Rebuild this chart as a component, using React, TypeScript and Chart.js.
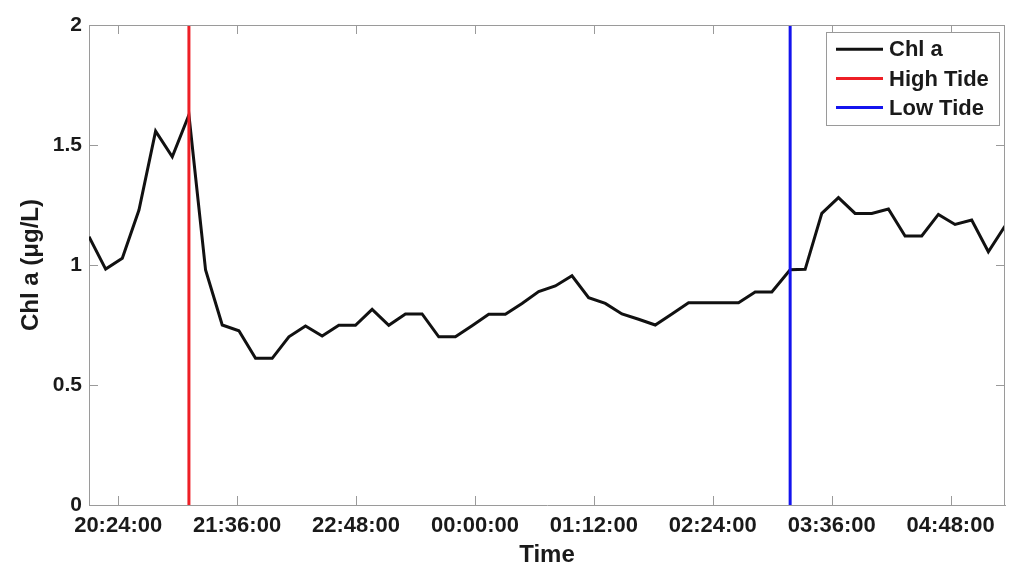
import React, { useEffect, useRef } from 'react';
import { Chart, registerables } from 'chart.js';

Chart.register(...registerables);

// Sample times (HH:MM:SS), overnight
const sampleTimes = [
  '20:06:20', '20:16:25', '20:26:30', '20:36:35', '20:46:40', '20:56:45', '21:06:50', '21:16:55',
  '21:27:00', '21:37:05', '21:47:10', '21:57:15', '22:07:20', '22:17:25', '22:27:30', '22:37:35',
  '22:47:40', '22:57:45', '23:07:50', '23:17:55', '23:28:00', '23:38:05', '23:48:10', '23:58:15',
  '00:08:20', '00:18:25', '00:28:30', '00:38:35', '00:48:40', '00:58:45', '01:08:50', '01:18:55',
  '01:29:00', '01:39:05', '01:49:10', '01:59:15', '02:09:20', '02:19:25', '02:29:30', '02:39:35',
  '02:49:40', '02:59:45', '03:10:50', '03:19:55', '03:30:00', '03:40:05', '03:50:10', '04:00:15',
  '04:10:20', '04:20:25', '04:30:30', '04:40:35', '04:50:40', '05:00:45', '05:10:50', '05:20:55',
];

// Chl a (µg/L)
const chlValues = [
  1.118, 0.983, 1.028, 1.229, 1.558, 1.451, 1.625, 0.979,
  0.75, 0.726, 0.611, 0.611, 0.701, 0.746, 0.704, 0.749,
  0.749, 0.815, 0.749, 0.796, 0.796, 0.701, 0.701, 0.747,
  0.795, 0.795, 0.84, 0.889, 0.9125, 0.955, 0.864, 0.84,
  0.796, 0.774, 0.75, 0.796, 0.843, 0.843, 0.843, 0.843,
  0.8875, 0.8875, 0.98, 0.982, 1.215, 1.281, 1.215, 1.215,
  1.233, 1.121, 1.121, 1.211, 1.169, 1.1875, 1.055, 1.1625,
];

const highTideTime = '21:06:50';
const lowTideTime = '03:10:50';
const tideRange = [0, 2];

const xTickTimes = ['20:24:00', '21:36:00', '22:48:00', '00:00:00', '01:12:00', '02:24:00', '03:36:00', '04:48:00'];
const yTickValues = [0, 0.5, 1, 1.5, 2];

const seriesLabels = ['Chl a', 'High Tide', 'Low Tide'];
const seriesColors = ['#111111', '#ee1f26', '#1414ee'];

const FONT = '"Liberation Sans", Arial, Helvetica, sans-serif';
const AXIS_GRAY = '#9a9a9a';
const TEXT = '#1a1a1a';

function toMinutes(t: string): number {
  const [h, m, s] = t.split(':').map(Number);
  let v = h * 60 + m + s / 60;
  if (h < 12) v += 1440;
  return v;
}

function fmtTime(v: number): string {
  let total = Math.round(v * 60);
  total = ((total % 86400) + 86400) % 86400;
  const h = Math.floor(total / 3600);
  const m = Math.floor((total % 3600) / 60);
  const s = total % 60;
  const p = (n: number) => String(n).padStart(2, '0');
  return `${p(h)}:${p(m)}:${p(s)}`;
}

const boxTicksPlugin = {
  id: 'boxTicks',
  afterDatasetsDraw(chart: any) {
    const { ctx, chartArea } = chart;
    const { left, right, top, bottom } = chartArea;
    const len = 9;
    ctx.save();
    ctx.strokeStyle = AXIS_GRAY;
    ctx.lineWidth = 1;
    ctx.beginPath();
    ctx.moveTo(left, top + 0.5);
    ctx.lineTo(right, top + 0.5);
    ctx.moveTo(right - 0.5, top);
    ctx.lineTo(right - 0.5, bottom);
    const xs = chart.scales.x;
    xs.ticks.forEach((t: any) => {
      const px = Math.round(xs.getPixelForValue(t.value)) + 0.5;
      ctx.moveTo(px, bottom);
      ctx.lineTo(px, bottom - len);
      ctx.moveTo(px, top);
      ctx.lineTo(px, top + len);
    });
    const ys = chart.scales.y;
    ys.ticks.forEach((t: any) => {
      const py = Math.round(ys.getPixelForValue(t.value)) + 0.5;
      ctx.moveTo(left, py);
      ctx.lineTo(left + len, py);
      ctx.moveTo(right, py);
      ctx.lineTo(right - len, py);
    });
    ctx.stroke();
    ctx.restore();
  },
};

const boxLegendPlugin = {
  id: 'boxLegend',
  afterDraw(chart: any) {
    const { ctx, chartArea } = chart;
    const w = 173;
    const h = 93;
    const x0 = chartArea.right - 6 - w;
    const y0 = chartArea.top + 7;
    ctx.save();
    ctx.fillStyle = '#ffffff';
    ctx.fillRect(x0, y0, w, h);
    ctx.strokeStyle = AXIS_GRAY;
    ctx.lineWidth = 1;
    ctx.strokeRect(x0 + 0.5, y0 + 0.5, w, h);
    const rows = [17.3, 46.5, 75.5];
    chart.data.datasets.forEach((ds: any, i: number) => {
      const y = y0 + rows[i];
      ctx.strokeStyle = ds.borderColor;
      ctx.lineWidth = 3;
      ctx.beginPath();
      ctx.moveTo(x0 + 10, y);
      ctx.lineTo(x0 + 57, y);
      ctx.stroke();
      ctx.fillStyle = TEXT;
      ctx.font = `bold 22px ${FONT}`;
      ctx.textBaseline = 'middle';
      ctx.textAlign = 'left';
      ctx.fillText(ds.label, x0 + 63, y + 1);
    });
    ctx.restore();
  },
};

export default function App() {
  const canvasRef = useRef<HTMLCanvasElement | null>(null);

  useEffect(() => {
    if (!canvasRef.current) return;
    const xMin = toMinutes(sampleTimes[0]);
    const xMax = toMinutes(sampleTimes[sampleTimes.length - 1]);
    const chlData = sampleTimes.map((t, i) => ({ x: toMinutes(t), y: chlValues[i] }));
    const hi = toMinutes(highTideTime);
    const lo = toMinutes(lowTideTime);

    const chart = new Chart(canvasRef.current, {
      type: 'line',
      data: {
        datasets: [
          {
            label: seriesLabels[0],
            data: chlData,
            borderColor: seriesColors[0],
            borderWidth: 3,
            pointRadius: 0,
            tension: 0,
            order: 2,
          },
          {
            label: seriesLabels[1],
            data: tideRange.map((y) => ({ x: hi, y })),
            borderColor: seriesColors[1],
            borderWidth: 3,
            pointRadius: 0,
            order: 1,
          },
          {
            label: seriesLabels[2],
            data: tideRange.map((y) => ({ x: lo, y })),
            borderColor: seriesColors[2],
            borderWidth: 3,
            pointRadius: 0,
            order: 1,
          },
        ],
      },
      options: {
        animation: false,
        responsive: true,
        maintainAspectRatio: false,
        parsing: false,
        layout: { padding: { left: 0, right: 19, top: 25, bottom: 0 } },
        plugins: {
          legend: { display: false },
          tooltip: { enabled: false },
        },
        scales: {
          x: {
            type: 'linear',
            min: xMin,
            max: xMax,
            grid: { display: false, drawTicks: false },
            border: { display: true, color: AXIS_GRAY, width: 1 },
            afterBuildTicks: (scale: any) => {
              scale.ticks = xTickTimes.map((t) => ({ value: toMinutes(t) }));
            },
            afterFit: (scale: any) => {
              scale.height = 74;
            },
            ticks: {
              autoSkip: false,
              maxRotation: 0,
              padding: 8,
              color: TEXT,
              font: { family: FONT, size: 22, weight: 'bold' },
              callback: (v: any) => fmtTime(Number(v)),
            },
            title: {
              display: true,
              text: 'Time',
              color: TEXT,
              font: { family: FONT, size: 24, weight: 'bold' },
              padding: { top: 0, bottom: 9 },
            },
          },
          y: {
            type: 'linear',
            min: 0,
            max: 2,
            grid: { display: false, drawTicks: false },
            border: { display: true, color: AXIS_GRAY, width: 1 },
            afterBuildTicks: (scale: any) => {
              scale.ticks = yTickValues.map((v) => ({ value: v }));
            },
            afterFit: (scale: any) => {
              scale.width = 89;
            },
            ticks: {
              padding: 7,
              color: TEXT,
              font: { family: FONT, size: 21, weight: 'bold' },
              callback: (v: any) => String(v),
            },
            title: {
              display: true,
              text: 'Chl a (μg/L)',
              color: TEXT,
              font: { family: FONT, size: 24, weight: 'bold' },
              padding: { top: 17, bottom: 0 },
            },
          },
        },
      },
      plugins: [boxTicksPlugin, boxLegendPlugin],
    } as any);

    return () => chart.destroy();
  }, []);

  return (
    <div style={{ position: 'fixed', left: 0, top: 0, width: 1024, height: 579, background: '#fff' }}>
      <canvas ref={canvasRef} />
    </div>
  );
}
